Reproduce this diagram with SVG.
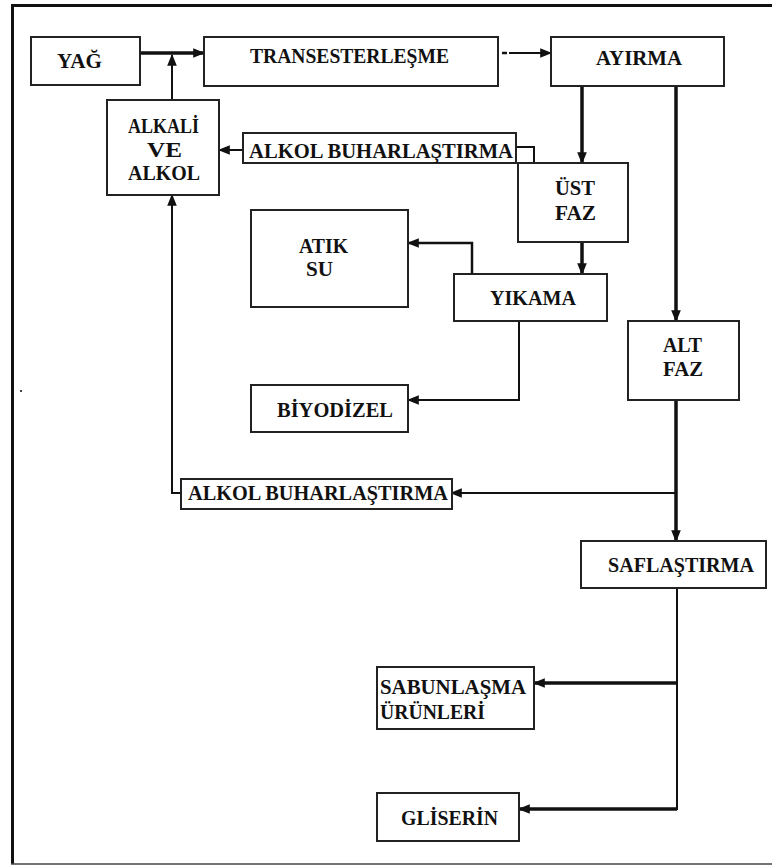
<svg xmlns="http://www.w3.org/2000/svg" width="772" height="865" viewBox="0 0 772 865">
  <style>
    .box { fill: #ffffff; stroke: #222222; stroke-width: 2; }
    .lbl { font-family: "Liberation Serif", "DejaVu Serif", "Times New Roman", serif; font-weight: 700; font-size: 20px; fill: #111111; }
    .thin { fill: none; stroke: #111111; stroke-width: 2; }
    .thick { fill: none; stroke: #111111; stroke-width: 3.5; }
  </style>
  <defs>
    <marker id="arrow" viewBox="0 0 10 10" refX="9" refY="5" markerUnits="userSpaceOnUse" markerWidth="12" markerHeight="12" orient="auto">
      <path d="M0,1 L10,5 L0,9 Z" fill="#111111"/>
    </marker>
  </defs>

  <!-- page frame -->
  <g id="frame">
    <rect x="0" y="0" width="772" height="865" fill="#ffffff"/>
    <line x1="11" y1="5.5" x2="772" y2="5.5" stroke="#111111" stroke-width="3"/>
    <line x1="12.5" y1="4" x2="12.5" y2="864" stroke="#111111" stroke-width="3"/>
    <line x1="11" y1="864" x2="772" y2="864" stroke="#444444" stroke-width="1.5"/>
    <rect x="20" y="390" width="2" height="2" fill="#444444"/>
  </g>

  <!-- connectors -->
  <g id="connectors">
    <line class="thick" x1="140" y1="53" x2="204" y2="53" marker-end="url(#arrow)"/>
    <line class="thin" x1="172" y1="100" x2="172" y2="55" marker-end="url(#arrow)"/>
    <line class="thin" x1="502" y1="53" x2="507" y2="53" style="stroke-width:2.5"/>
    <line class="thin" x1="509" y1="53" x2="551" y2="53" marker-end="url(#arrow)"/>
    <line class="thick" x1="582" y1="86" x2="582" y2="163" marker-end="url(#arrow)"/>
    <line class="thick" x1="676" y1="86" x2="676" y2="321" marker-end="url(#arrow)"/>
    <line class="thick" x1="582" y1="242" x2="582" y2="274" marker-end="url(#arrow)"/>
    <polyline class="thin" points="534,163 534,147 516,147"/>
    <line class="thin" x1="243" y1="150" x2="219" y2="150" marker-end="url(#arrow)"/>
    <polyline class="thin" points="472,274 472,243 408,243" style="stroke-width:2.5" marker-end="url(#arrow)"/>
    <polyline class="thin" points="519,321 519,400 408,400" marker-end="url(#arrow)"/>
    <line class="thick" x1="676" y1="400" x2="676" y2="541" marker-end="url(#arrow)"/>
    <line class="thin" x1="676" y1="493" x2="451" y2="493" marker-end="url(#arrow)"/>
    <polyline class="thin" points="181,493 172,493 172,195" marker-end="url(#arrow)"/>
    <line class="thin" x1="677" y1="588" x2="677" y2="810"/>
    <line class="thick" x1="677" y1="683" x2="534" y2="683" marker-end="url(#arrow)"/>
    <line class="thick" x1="677" y1="809" x2="519" y2="809" marker-end="url(#arrow)"/>
  </g>

  <g id="yag">
    <rect class="box" x="31" y="37" width="109" height="48"/>
    <text class="lbl" x="57" y="68" textLength="45" lengthAdjust="spacingAndGlyphs">YAĞ</text>
  </g>
  <g id="transesterlesme">
    <rect class="box" x="204" y="37" width="294" height="49"/>
    <text class="lbl" x="250" y="63" textLength="199" lengthAdjust="spacingAndGlyphs">TRANSESTERLEŞME</text>
  </g>
  <g id="ayirma">
    <rect class="box" x="551" y="37" width="173" height="49"/>
    <text class="lbl" x="596" y="65" textLength="86" lengthAdjust="spacingAndGlyphs">AYIRMA</text>
  </g>
  <g id="alkali-ve-alkol">
    <rect class="box" x="107" y="100" width="112" height="95"/>
    <text class="lbl" x="128" y="133" textLength="71" lengthAdjust="spacingAndGlyphs">ALKALİ</text>
    <text class="lbl" x="147" y="157" textLength="35" lengthAdjust="spacingAndGlyphs">VE</text>
    <text class="lbl" x="128" y="180" textLength="72" lengthAdjust="spacingAndGlyphs">ALKOL</text>
  </g>
  <g id="alkol-buharlastirma-1">
    <rect class="box" x="243" y="133" width="273" height="30"/>
    <text class="lbl" x="249" y="158" textLength="264" lengthAdjust="spacingAndGlyphs">ALKOL BUHARLAŞTIRMA</text>
  </g>
  <g id="ust-faz">
    <rect class="box" x="518" y="163" width="110" height="79"/>
    <text class="lbl" x="555" y="195" textLength="40" lengthAdjust="spacingAndGlyphs">ÜST</text>
    <text class="lbl" x="555" y="220" textLength="41" lengthAdjust="spacingAndGlyphs">FAZ</text>
  </g>
  <g id="atik-su">
    <rect class="box" x="251" y="210" width="157" height="97"/>
    <text class="lbl" x="299" y="253" textLength="49" lengthAdjust="spacingAndGlyphs">ATIK</text>
    <text class="lbl" x="306" y="276" textLength="27" lengthAdjust="spacingAndGlyphs">SU</text>
  </g>
  <g id="yikama">
    <rect class="box" x="454" y="274" width="153" height="47"/>
    <text class="lbl" x="490" y="305" textLength="86" lengthAdjust="spacingAndGlyphs">YIKAMA</text>
  </g>
  <g id="alt-faz">
    <rect class="box" x="628" y="321" width="111" height="79"/>
    <text class="lbl" x="663" y="352" textLength="39" lengthAdjust="spacingAndGlyphs">ALT</text>
    <text class="lbl" x="663" y="376" textLength="40" lengthAdjust="spacingAndGlyphs">FAZ</text>
  </g>
  <g id="biyodizel">
    <rect class="box" x="251" y="385" width="157" height="47"/>
    <text class="lbl" x="277" y="417" textLength="116" lengthAdjust="spacingAndGlyphs">BİYODİZEL</text>
  </g>
  <g id="alkol-buharlastirma-2">
    <rect class="box" x="181" y="479" width="271" height="30"/>
    <text class="lbl" x="188" y="500" textLength="260" lengthAdjust="spacingAndGlyphs">ALKOL BUHARLAŞTIRMA</text>
  </g>
  <g id="saflastirma">
    <rect class="box" x="581" y="541" width="185" height="47"/>
    <text class="lbl" x="608" y="572" textLength="146" lengthAdjust="spacingAndGlyphs">SAFLAŞTIRMA</text>
  </g>
  <g id="sabunlasma-urunleri">
    <rect class="box" x="377" y="667" width="157" height="62"/>
    <text class="lbl" x="380" y="694" textLength="146" lengthAdjust="spacingAndGlyphs">SABUNLAŞMA</text>
    <text class="lbl" x="380" y="719" textLength="105" lengthAdjust="spacingAndGlyphs">ÜRÜNLERİ</text>
  </g>
  <g id="gliserin">
    <rect class="box" x="377" y="793" width="142" height="48"/>
    <text class="lbl" x="401" y="825" textLength="97" lengthAdjust="spacingAndGlyphs">GLİSERİN</text>
  </g>
</svg>
